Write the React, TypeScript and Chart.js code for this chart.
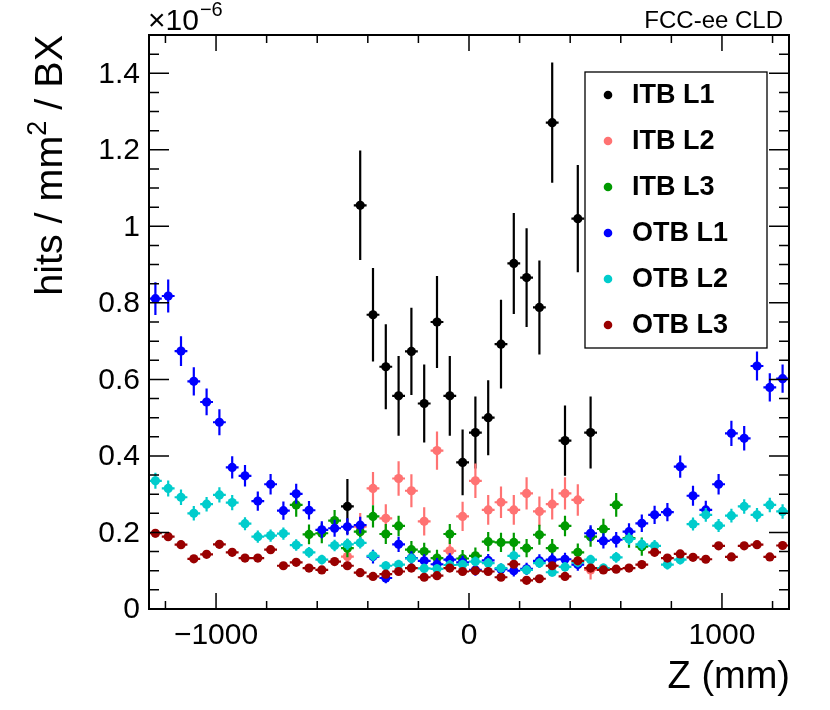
import React, { useEffect, useRef } from "react";
import { Chart, registerables } from "chart.js";

Chart.register(...registerables);

// ---- Axis / binning ----
const X_MIN = -1265;
const X_MAX = 1265;
const Y_MIN = 0;
const Y_MAX = 1.5;
const N_BINS = 50;
const BIN_WIDTH = (X_MAX - X_MIN) / N_BINS;
const BIN_CENTERS: number[] = Array.from({ length: N_BINS }, (_, i) => X_MIN + (i + 0.5) * BIN_WIDTH);

const X_MAJOR_TICKS = [-1000, 0, 1000];
const X_TICK_LABELS = ["\u22121000", "0", "1000"];
const X_MINOR_TICKS = [-1200, -800, -600, -400, -200, 200, 400, 600, 800, 1200];
const Y_MAJOR_TICKS = [0, 0.2, 0.4, 0.6, 0.8, 1.0, 1.2, 1.4];
const Y_TICK_LABELS = ["0", "0.2", "0.4", "0.6", "0.8", "1", "1.2", "1.4"];
const Y_MINOR_STEP = 0.05;

const SERIES_NAMES = ["ITB L1", "ITB L2", "ITB L3", "OTB L1", "OTB L2", "OTB L3"];
const SERIES_COLORS = ["#000000", "#ff7272", "#009a00", "#0000ff", "#00cccc", "#990000"];

const N = null;

// values in units of 1e-6 hits / mm^2 / BX, one per Z bin
const ITB_L1 = [N, N, N, N, N, N, N, N, N, N, N, N, N, N, N,
  0.268, 1.055, 0.769, 0.633, 0.557, 0.673, 0.537, 0.750, 0.557, 0.383,
  0.461, 0.500, 0.692, 0.903, 0.866, 0.788, 1.271, 0.440, 1.020, 0.461,
  N, N, N, N, N, N, N, N, N, N, N, N, N, N, N];
const ITB_L1_ERR = [N, N, N, N, N, N, N, N, N, N, N, N, N, N, N,
  0.072, 0.143, 0.122, 0.111, 0.104, 0.114, 0.102, 0.120, 0.104, 0.086,
  0.094, 0.098, 0.116, 0.132, 0.129, 0.123, 0.157, 0.092, 0.140, 0.094,
  N, N, N, N, N, N, N, N, N, N, N, N, N, N, N];

const ITB_L2 = [N, N, N, N, N, N, N, N, N, N, N, N, N, N, N,
  0.137, 0.215, 0.315, 0.237, 0.341, 0.309, 0.229, 0.414, 0.152, 0.242,
  0.335, 0.259, 0.279, 0.259, 0.302, 0.255, 0.274, 0.302, 0.285, 0.102,
  N, N, N, N, N, N, N, N, N, N, N, N, N, N, N];
const ITB_L2_ERR = [N, N, N, N, N, N, N, N, N, N, N, N, N, N, N,
  0.029, 0.036, 0.043, 0.037, 0.045, 0.043, 0.037, 0.050, 0.030, 0.038,
  0.045, 0.039, 0.041, 0.039, 0.042, 0.039, 0.040, 0.042, 0.041, 0.025,
  N, N, N, N, N, N, N, N, N, N, N, N, N, N, N];

const ITB_L3 = [N, N, N, N, N, N, N, N, N, N, N,
  0.272, 0.195, 0.198, 0.231, 0.159, 0.202, 0.242, 0.196, 0.217, 0.155,
  0.150, 0.133, 0.196, 0.132, 0.139, 0.176, 0.174, 0.174, 0.159, 0.194,
  0.159, 0.217, 0.148, 0.189, 0.209, 0.272, 0.185, 0.163,
  N, N, N, N, N, N, N, N, N, N, N];
const ITB_L3_ERR = [N, N, N, N, N, N, N, N, N, N, N,
  0.031, 0.026, 0.026, 0.028, 0.024, 0.026, 0.029, 0.026, 0.027, 0.023,
  0.023, 0.022, 0.026, 0.022, 0.022, 0.025, 0.025, 0.025, 0.024, 0.026,
  0.024, 0.027, 0.023, 0.026, 0.027, 0.031, 0.025, 0.024,
  N, N, N, N, N, N, N, N, N, N, N];

const OTB_L1 = [
  0.811, 0.818, 0.674, 0.595, 0.541, 0.488, 0.370, 0.348, 0.282, 0.326,
  0.257, 0.301, 0.258, 0.207, 0.211, 0.215, 0.219, 0.137, 0.081, 0.169,
  0.133, 0.126, 0.117, 0.129, 0.122, 0.102, 0.127, 0.104, 0.100, 0.105,
  0.126, 0.129, 0.130, 0.116, 0.198, 0.178, 0.181, 0.202, 0.224, 0.246,
  0.253, 0.372, 0.296, 0.259, 0.326, 0.459, 0.446, 0.635, 0.579, 0.602];
const OTB_L1_ERR = [
  0.043, 0.043, 0.039, 0.037, 0.035, 0.034, 0.029, 0.028, 0.025, 0.027,
  0.024, 0.026, 0.024, 0.022, 0.022, 0.022, 0.022, 0.018, 0.014, 0.020,
  0.018, 0.017, 0.016, 0.017, 0.017, 0.015, 0.017, 0.015, 0.015, 0.016,
  0.017, 0.017, 0.017, 0.016, 0.021, 0.020, 0.020, 0.022, 0.023, 0.024,
  0.024, 0.029, 0.026, 0.024, 0.027, 0.033, 0.032, 0.038, 0.037, 0.037];

const OTB_L2 = [
  0.335, 0.315, 0.292, 0.250, 0.274, 0.298, 0.278, 0.223, 0.189, 0.192,
  0.197, 0.167, 0.148, 0.129, 0.166, 0.169, 0.173, 0.139, 0.113, 0.116,
  0.132, 0.106, 0.105, 0.115, 0.116, 0.124, 0.120, 0.107, 0.139, 0.102,
  0.120, 0.096, 0.110, 0.122, 0.129, 0.107, 0.135, 0.183, 0.169, 0.165,
  0.116, 0.129, 0.222, 0.246, 0.218, 0.244, 0.268, 0.246, 0.272, 0.255];
const OTB_L2_ERR = [
  0.021, 0.021, 0.020, 0.019, 0.019, 0.020, 0.020, 0.017, 0.016, 0.016,
  0.016, 0.015, 0.014, 0.013, 0.015, 0.015, 0.015, 0.014, 0.012, 0.013,
  0.013, 0.012, 0.012, 0.013, 0.013, 0.013, 0.013, 0.012, 0.014, 0.012,
  0.013, 0.011, 0.012, 0.013, 0.013, 0.012, 0.014, 0.016, 0.015, 0.015,
  0.013, 0.013, 0.017, 0.018, 0.017, 0.018, 0.019, 0.018, 0.019, 0.019];

const OTB_L3 = [
  0.198, 0.189, 0.168, 0.131, 0.143, 0.169, 0.148, 0.133, 0.133, 0.155,
  0.113, 0.122, 0.107, 0.102, 0.124, 0.113, 0.095, 0.085, 0.091, 0.098,
  0.107, 0.083, 0.087, 0.107, 0.098, 0.100, 0.098, 0.083, 0.117, 0.075,
  0.079, 0.113, 0.085, 0.126, 0.107, 0.102, 0.104, 0.107, 0.116, 0.148,
  0.133, 0.144, 0.135, 0.130, 0.165, 0.136, 0.165, 0.168, 0.136, 0.166];
const OTB_L3_ERR = [
  0.011, 0.011, 0.010, 0.009, 0.009, 0.010, 0.010, 0.009, 0.009, 0.010,
  0.008, 0.009, 0.008, 0.008, 0.009, 0.008, 0.008, 0.007, 0.008, 0.008,
  0.008, 0.007, 0.007, 0.008, 0.008, 0.008, 0.008, 0.007, 0.009, 0.007,
  0.007, 0.008, 0.007, 0.009, 0.008, 0.008, 0.008, 0.008, 0.009, 0.010,
  0.009, 0.009, 0.009, 0.009, 0.010, 0.009, 0.010, 0.010, 0.009, 0.010];

const SERIES_VALUES = [ITB_L1, ITB_L2, ITB_L3, OTB_L1, OTB_L2, OTB_L3];
const SERIES_ERRORS = [ITB_L1_ERR, ITB_L2_ERR, ITB_L3_ERR, OTB_L1_ERR, OTB_L2_ERR, OTB_L3_ERR];

const FONT = "'Liberation Sans', Arial, Helvetica, sans-serif";

type Pt = { x: number; y: number; err: number };

function buildPoints(vals: (number | null)[], errs: (number | null)[]): Pt[] {
  const out: Pt[] = [];
  vals.forEach((v, i) => {
    if (v !== null && v !== undefined) out.push({ x: BIN_CENTERS[i], y: v, err: (errs[i] as number) || 0 });
  });
  return out;
}

const rootStylePlugin = {
  id: "rootStyle",
  beforeDatasetDraw(chart: any, args: any) {
    const ds = chart.data.datasets[args.index];
    const xs = chart.scales.x;
    const ys = chart.scales.y;
    const ctx: CanvasRenderingContext2D = chart.ctx;
    const a = chart.chartArea;
    ctx.save();
    ctx.beginPath();
    ctx.rect(a.left, a.top, a.right - a.left, a.bottom - a.top);
    ctx.clip();
    ctx.strokeStyle = ds.backgroundColor;
    ctx.lineWidth = 2.2;
    ctx.beginPath();
    (ds.data as Pt[]).forEach((p) => {
      const px = xs.getPixelForValue(p.x);
      const py = ys.getPixelForValue(p.y);
      const x0 = xs.getPixelForValue(p.x - BIN_WIDTH / 2);
      const x1 = xs.getPixelForValue(p.x + BIN_WIDTH / 2);
      const yt = ys.getPixelForValue(p.y + p.err);
      const yb = ys.getPixelForValue(p.y - p.err);
      ctx.moveTo(x0, py);
      ctx.lineTo(x1, py);
      ctx.moveTo(px, yt);
      ctx.lineTo(px, yb);
    });
    ctx.stroke();
    ctx.restore();
  },
  afterDraw(chart: any) {
    const ctx: CanvasRenderingContext2D = chart.ctx;
    const xs = chart.scales.x;
    const ys = chart.scales.y;
    const a = chart.chartArea;
    ctx.save();
    ctx.strokeStyle = "#000";
    ctx.fillStyle = "#000";

    // ticks (inward, on all four sides)
    ctx.lineWidth = 1.5;
    ctx.beginPath();
    Y_MAJOR_TICKS.forEach((v) => {
      const y = ys.getPixelForValue(v);
      ctx.moveTo(a.left, y); ctx.lineTo(a.left + 20, y);
      ctx.moveTo(a.right, y); ctx.lineTo(a.right - 20, y);
    });
    for (let v = Y_MIN; v <= Y_MAX + 1e-9; v += Y_MINOR_STEP) {
      const y = ys.getPixelForValue(v);
      ctx.moveTo(a.left, y); ctx.lineTo(a.left + 10, y);
      ctx.moveTo(a.right, y); ctx.lineTo(a.right - 10, y);
    }
    X_MAJOR_TICKS.forEach((v) => {
      const x = xs.getPixelForValue(v);
      ctx.moveTo(x, a.bottom); ctx.lineTo(x, a.bottom - 16);
      ctx.moveTo(x, a.top); ctx.lineTo(x, a.top + 16);
    });
    X_MINOR_TICKS.forEach((v) => {
      const x = xs.getPixelForValue(v);
      ctx.moveTo(x, a.bottom); ctx.lineTo(x, a.bottom - 8);
      ctx.moveTo(x, a.top); ctx.lineTo(x, a.top + 8);
    });
    ctx.stroke();

    // frame
    ctx.lineWidth = 2;
    ctx.strokeRect(a.left, a.top, a.right - a.left, a.bottom - a.top);

    // tick labels
    ctx.font = `30px ${FONT}`;
    ctx.textAlign = "right";
    ctx.textBaseline = "middle";
    Y_MAJOR_TICKS.forEach((v, i) => {
      ctx.fillText(Y_TICK_LABELS[i], a.left - 9, ys.getPixelForValue(v) + 1);
    });
    ctx.textAlign = "center";
    ctx.textBaseline = "alphabetic";
    X_MAJOR_TICKS.forEach((v, i) => {
      ctx.fillText(X_TICK_LABELS[i], xs.getPixelForValue(v), a.bottom + 35);
    });

    // exponent label
    ctx.textAlign = "left";
    ctx.font = `30px ${FONT}`;
    ctx.fillText("\u00d710", a.left - 1, a.top - 5);
    const wx = ctx.measureText("\u00d710").width;
    ctx.font = `20px ${FONT}`;
    ctx.fillText("\u22126", a.left - 1 + wx + 1, a.top - 19);

    // x title
    ctx.font = `38px ${FONT}`;
    ctx.textAlign = "right";
    ctx.fillText("Z (mm)", a.right + 1, a.bottom + 79);

    // y title (rotated, aligned to top of axis)
    ctx.save();
    ctx.translate(62, a.top);
    ctx.rotate(-Math.PI / 2);
    ctx.textAlign = "left";
    const big = `39.5px ${FONT}`;
    const small = `27px ${FONT}`;
    ctx.font = big;
    const w1 = ctx.measureText("hits / mm").width;
    const w3 = ctx.measureText(" / BX").width;
    ctx.font = small;
    const w2 = ctx.measureText("2").width;
    const total = w1 + w2 + w3;
    let cx = -total;
    ctx.font = big;
    ctx.fillText("hits / mm", cx, 0);
    cx += w1;
    ctx.font = small;
    ctx.fillText("2", cx, -16);
    cx += w2;
    ctx.font = big;
    ctx.fillText(" / BX", cx, 0);
    ctx.restore();

    // experiment label
    ctx.font = `24px ${FONT}`;
    ctx.textAlign = "right";
    ctx.fillText("FCC-ee CLD", 783, 28);

    // legend
    const lx = 585, ly = 72, lw = 182, lh = 276;
    ctx.fillStyle = "#fff";
    ctx.fillRect(lx, ly, lw, lh);
    ctx.lineWidth = 1.3;
    ctx.strokeStyle = "#000";
    ctx.strokeRect(lx, ly, lw, lh);
    ctx.font = `bold 27px ${FONT}`;
    ctx.textAlign = "left";
    ctx.textBaseline = "middle";
    SERIES_NAMES.forEach((name, i) => {
      const cy = 95 + i * 46;
      ctx.fillStyle = SERIES_COLORS[i];
      ctx.beginPath();
      ctx.arc(608, cy, 4.3, 0, Math.PI * 2);
      ctx.fill();
      ctx.fillStyle = "#000";
      ctx.fillText(name, 632, cy + 1);
    });
    ctx.restore();
  },
};

export default function App() {
  const ref = useRef<HTMLCanvasElement | null>(null);
  useEffect(() => {
    if (!ref.current) return;
    const datasets = SERIES_NAMES.map((name, i) => ({
      label: name,
      data: buildPoints(SERIES_VALUES[i], SERIES_ERRORS[i]),
      backgroundColor: SERIES_COLORS[i],
      borderColor: SERIES_COLORS[i],
      borderWidth: 0,
      pointRadius: 4.6,
      pointStyle: "circle",
      showLine: false,
      order: SERIES_NAMES.length - i,
    }));
    const chart = new Chart(ref.current, {
      type: "scatter",
      data: { datasets },
      options: {
        animation: false,
        responsive: false,
        devicePixelRatio: 1,
        layout: { padding: { left: 149, right: 41, top: 35, bottom: 101 } },
        scales: {
          x: { type: "linear", min: X_MIN, max: X_MAX, display: false },
          y: { type: "linear", min: Y_MIN, max: Y_MAX, display: false },
        },
        plugins: { legend: { display: false }, tooltip: { enabled: false } },
      },
      plugins: [rootStylePlugin],
    } as any);
    return () => chart.destroy();
  }, []);
  return (
    <div style={{ position: "absolute", left: 0, top: 0, width: 830, height: 710, background: "#fff" }}>
      <canvas ref={ref} width={830} height={710} style={{ display: "block", width: 830, height: 710 }} />
    </div>
  );
}
